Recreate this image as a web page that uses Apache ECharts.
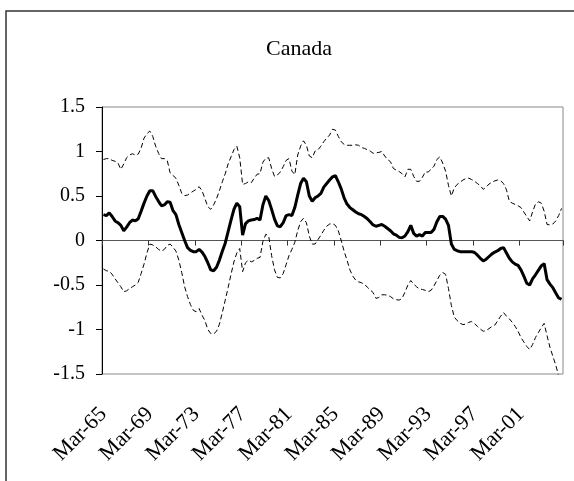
<!DOCTYPE html>
<html>
<head>
<meta charset="utf-8">
<script src="https://cdn.jsdelivr.net/npm/echarts@6/dist/echarts.min.js"></script>
<style>
  html, body { margin: 0; padding: 0; background: #fff; }
  #chart { width: 574px; height: 481px; }
</style>
</head>
<body>
<div id="chart"></div>
<script>
// quarterly, Mar-65 .. Sep-04
const startYear = 1965;
const months = ['Mar', 'Jun', 'Sep', 'Dec'];

const estimate = [
  0.29, 0.28, 0.31, 0.27, 0.22, 0.20, 0.17, 0.11, 0.15, 0.20,
  0.23, 0.22, 0.245, 0.33, 0.42, 0.50, 0.56, 0.56, 0.495, 0.44,
  0.39, 0.40, 0.435, 0.43, 0.335, 0.29, 0.18, 0.09, 0.0, -0.08,
  -0.11, -0.125, -0.125, -0.10, -0.13, -0.18, -0.25, -0.33, -0.34, -0.30,
  -0.22, -0.12, -0.03, 0.10, 0.23, 0.35, 0.42, 0.38, 0.06, 0.19,
  0.22, 0.23, 0.235, 0.25, 0.23, 0.40, 0.50, 0.45, 0.35, 0.24,
  0.165, 0.155, 0.20, 0.28, 0.29, 0.28, 0.37, 0.51, 0.64, 0.70,
  0.66, 0.50, 0.44, 0.48, 0.50, 0.53, 0.60, 0.64, 0.68, 0.715,
  0.73, 0.66, 0.58, 0.48, 0.41, 0.37, 0.345, 0.32, 0.30, 0.29,
  0.27, 0.245, 0.21, 0.175, 0.16, 0.17, 0.18, 0.16, 0.135, 0.11,
  0.075, 0.06, 0.035, 0.03, 0.05, 0.10, 0.17, 0.08, 0.05, 0.065,
  0.05, 0.09, 0.09, 0.09, 0.125, 0.21, 0.27, 0.27, 0.24, 0.17,
  -0.04, -0.10, -0.115, -0.125, -0.125, -0.125, -0.125, -0.125, -0.135, -0.165,
  -0.20, -0.23, -0.21, -0.18, -0.15, -0.13, -0.115, -0.09, -0.08, -0.14,
  -0.20, -0.24, -0.265, -0.28, -0.33, -0.40, -0.48, -0.50, -0.43, -0.385,
  -0.335, -0.285, -0.26, -0.44, -0.49, -0.53, -0.59, -0.645, -0.66
];

const upperBand = [
  0.91, 0.92, 0.92, 0.90, 0.89, 0.87, 0.80, 0.86, 0.93, 0.96,
  0.975, 0.96, 0.97, 1.04, 1.15, 1.20, 1.23, 1.17, 1.06, 0.98,
  0.92, 0.92, 0.90, 0.76, 0.73, 0.70, 0.62, 0.53, 0.505, 0.51,
  0.535, 0.555, 0.575, 0.605, 0.56, 0.47, 0.38, 0.35, 0.40, 0.47,
  0.56, 0.66, 0.75, 0.86, 0.94, 1.02, 1.06, 0.93, 0.63, 0.64,
  0.66, 0.65, 0.70, 0.745, 0.75, 0.88, 0.925, 0.93, 0.81, 0.72,
  0.735, 0.77, 0.83, 0.90, 0.92, 0.78, 0.74, 0.96, 1.06, 1.12,
  1.07, 0.95, 0.93, 1.005, 1.02, 1.06, 1.11, 1.15, 1.185, 1.25,
  1.24, 1.17, 1.11, 1.08, 1.07, 1.07, 1.07, 1.075, 1.07, 1.045,
  1.035, 1.02, 1.005, 0.98, 0.985, 0.99, 1.00, 0.95, 0.91, 0.885,
  0.81, 0.79, 0.775, 0.75, 0.715, 0.80, 0.80, 0.72, 0.665, 0.665,
  0.71, 0.77, 0.77, 0.80, 0.835, 0.91, 0.94, 0.87, 0.78, 0.62,
  0.50, 0.59, 0.63, 0.655, 0.68, 0.695, 0.70, 0.685, 0.665, 0.64,
  0.615, 0.575, 0.60, 0.635, 0.655, 0.67, 0.68, 0.67, 0.64, 0.57,
  0.44, 0.42, 0.405, 0.39, 0.37, 0.32, 0.27, 0.22, 0.32, 0.41,
  0.435, 0.42, 0.33, 0.18, 0.175, 0.185, 0.22, 0.28, 0.36
];

const lowerBand = [
  -0.32, -0.34, -0.345, -0.38, -0.43, -0.475, -0.52, -0.575, -0.565, -0.54,
  -0.52, -0.50, -0.47, -0.37, -0.265, -0.14, -0.04, -0.05, -0.07, -0.10,
  -0.12, -0.10, -0.055, -0.04, -0.075, -0.12, -0.22, -0.36, -0.52, -0.63,
  -0.72, -0.785, -0.80, -0.765, -0.84, -0.90, -1.00, -1.045, -1.05, -1.02,
  -0.94, -0.81, -0.67, -0.53, -0.38, -0.24, -0.14, -0.09, -0.35, -0.25,
  -0.22, -0.24, -0.225, -0.20, -0.19, -0.01, 0.07, 0.05, -0.17, -0.33,
  -0.415, -0.42, -0.37, -0.27, -0.17, -0.10, -0.02, 0.11, 0.21, 0.25,
  0.20, 0.05, -0.04, -0.04, 0.01, 0.06, 0.115, 0.16, 0.185, 0.19,
  0.17, 0.11, 0.00, -0.12, -0.22, -0.33, -0.40, -0.445, -0.465, -0.475,
  -0.49, -0.525, -0.555, -0.585, -0.65, -0.64, -0.61, -0.61, -0.615, -0.63,
  -0.655, -0.665, -0.67, -0.65, -0.58, -0.50, -0.45, -0.49, -0.52, -0.545,
  -0.55, -0.56, -0.575, -0.56, -0.51, -0.45, -0.39, -0.36, -0.38, -0.54,
  -0.73, -0.86, -0.90, -0.93, -0.945, -0.94, -0.92, -0.91, -0.935, -0.965,
  -0.995, -1.02, -1.01, -0.99, -0.965, -0.95, -0.90, -0.85, -0.81, -0.85,
  -0.88, -0.92, -0.965, -1.02, -1.09, -1.14, -1.19, -1.225, -1.17, -1.09,
  -1.035, -0.98, -0.93, -1.07, -1.20, -1.30, -1.40, -1.52, -1.60
];

const quarters = [];
for (let i = 0; i < estimate.length; i++) {
  const y = (startYear + Math.floor(i / 4)) % 100;
  quarters.push(months[i % 4] + '-' + String(y).padStart(2, '0'));
}

const yTicks = { min: -1.5, max: 1.5, step: 0.5 };
const serif = "'Liberation Serif', 'Times New Roman', serif";

const chart = echarts.init(document.getElementById('chart'));

chart.setOption({
  animation: false,
  title: {
    text: 'Canada',
    left: 294,
    top: 33,
    textAlign: 'center',
    textStyle: { fontFamily: serif, fontSize: 22, fontWeight: 'normal', color: '#000' }
  },
  graphic: [{
    type: 'rect',
    shape: { x: 6, y: 11, width: 580, height: 480 },
    style: { fill: null, stroke: '#333', lineWidth: 1.5 },
    silent: true
  }],
  grid: {
    left: 102, right: 11, top: 107, bottom: 107,
    show: true,
    borderColor: '#888',
    borderWidth: 1
  },
  xAxis: [
    {
      type: 'category',
      data: quarters,
      boundaryGap: true,
      axisLine: { onZero: true, lineStyle: { color: '#555', width: 1 } },
      axisTick: { show: true, interval: 15, length: 5, lineStyle: { color: '#333' } },
      axisLabel: { show: false },
      splitLine: { show: false }
    },
    {
      type: 'category',
      data: quarters,
      position: 'bottom',
      boundaryGap: true,
      axisLine: { show: false },
      axisTick: { show: false },
      axisLabel: {
        interval: 15,
        rotate: 45,
        margin: 37,
        padding: 0,
        fontFamily: serif,
        fontSize: 22,
        color: '#000'
      },
      splitLine: { show: false }
    }
  ],
  yAxis: {
    type: 'value',
    min: yTicks.min,
    max: yTicks.max,
    interval: yTicks.step,
    axisLine: { show: true, onZero: false, lineStyle: { color: '#000', width: 1 } },
    axisTick: { show: true, length: 6, lineStyle: { color: '#000' } },
    axisLabel: { fontFamily: serif, fontSize: 20, color: '#000', margin: 17 },
    splitLine: { show: false }
  },
  series: [
    {
      name: 'upper',
      type: 'line',
      data: upperBand,
      symbol: 'none',
      lineStyle: { color: '#000', width: 1, type: [5, 3] }
    },
    {
      name: 'lower',
      type: 'line',
      data: lowerBand,
      symbol: 'none',
      lineStyle: { color: '#000', width: 1, type: [5, 3] }
    },
    {
      name: 'estimate',
      type: 'line',
      data: estimate,
      symbol: 'none',
      lineStyle: { color: '#000', width: 3 }
    }
  ]
});
</script>
</body>
</html>
